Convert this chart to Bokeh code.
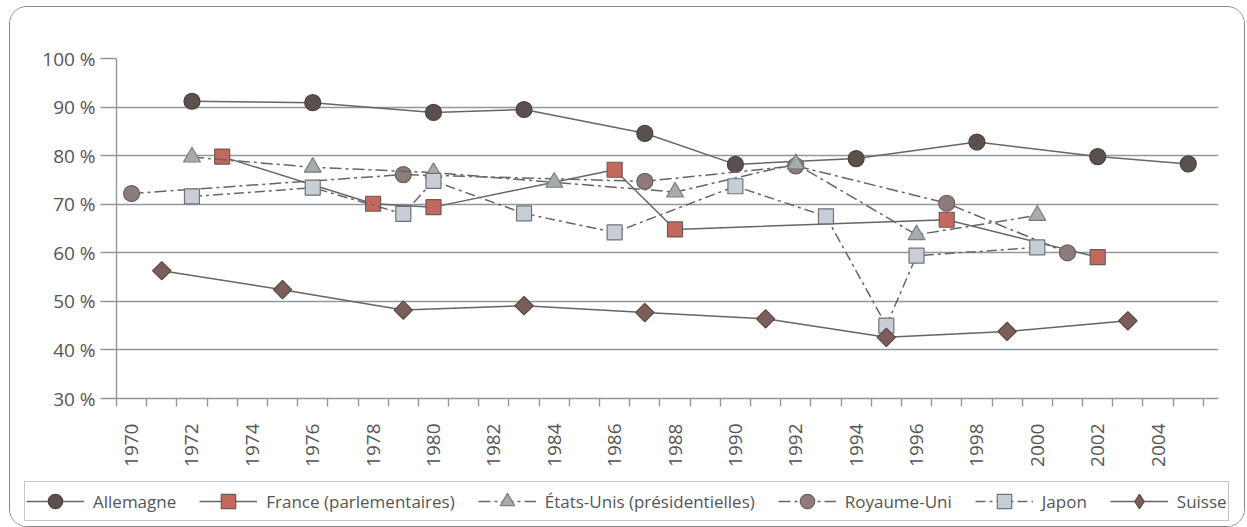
import numpy as np
from bokeh.plotting import figure
from bokeh.layouts import column
from bokeh.models import Range1d, FixedTicker, Legend, LegendItem, CustomJSTickFormatter
from bokeh.embed import file_html
from bokeh.resources import INLINE

# ---- data (turnout, %) ----
allemagne_years = [1972, 1976, 1980, 1983, 1987, 1990, 1994, 1998, 2002, 2005]
allemagne_vals = [91.2, 90.9, 88.9, 89.5, 84.6, 78.2, 79.4, 82.8, 79.8, 78.3]

france_years = [1973, 1978, 1980, 1986, 1988, 1997, 2002]
france_vals = [79.8, 70.1, 69.4, 77.1, 64.8, 66.8, 59.1]

usa_years = [1972, 1976, 1980, 1984, 1988, 1992, 1996, 2000]
usa_vals = [79.7, 77.6, 76.5, 74.5, 72.5, 78.3, 63.7, 67.7]

uk_years = [1970, 1979, 1987, 1992, 1997, 2001]
uk_vals = [72.2, 76.1, 74.7, 77.9, 70.2, 60.0]

japon_years = [1972, 1976, 1979, 1980, 1983, 1986, 1990, 1993, 1995, 1996, 2000]
japon_vals = [71.6, 73.4, 68.0, 74.8, 68.1, 64.2, 73.7, 67.5, 45.0, 59.4, 61.1]

suisse_years = [1971, 1975, 1979, 1983, 1987, 1991, 1995, 1999, 2003]
suisse_vals = [56.3, 52.4, 48.2, 49.1, 47.7, 46.4, 42.6, 43.8, 46.0]

x_label_years = list(range(1970, 2005, 2))
y_ticks = list(range(30, 101, 10))

FONT = "Open Sans"
TXT = "#555555"
GRID = "#8f979f"
LINE = "#666666"
W = 1234
ML, MR = 106, 26

p = figure(width=W, height=470,
           x_range=Range1d(1969.5, 1969.5 + 1102 / 30.19), y_range=Range1d(30, 100),
           output_backend="svg", toolbar_location=None,
           min_border_left=ML, min_border_right=MR,
           min_border_top=51, min_border_bottom=79)
p.frame_align = False
p.outline_line_color = None
p.background_fill_color = "white"
p.border_fill_color = "white"

p.xgrid.visible = False
p.ygrid.ticker = FixedTicker(ticks=y_ticks)
p.ygrid.grid_line_color = GRID
p.ygrid.grid_line_width = 1.4

# y axis
p.yaxis.ticker = FixedTicker(ticks=y_ticks)
p.yaxis.formatter = CustomJSTickFormatter(code="return tick + ' %';")
p.yaxis.major_tick_out = 16
p.yaxis.major_tick_in = 0
p.yaxis.minor_tick_out = 0
p.yaxis.minor_tick_in = 0
p.yaxis.major_label_standoff = 5
p.yaxis.axis_line_color = GRID
p.yaxis.axis_line_width = 1.4
p.yaxis.major_tick_line_color = GRID
p.yaxis.major_tick_line_width = 1.4
p.yaxis.major_label_text_font = FONT
p.yaxis.major_label_text_font_size = "19px"
p.yaxis.major_label_text_color = TXT

# x axis
minor = [1969.5 + i for i in range(37)]
p.xaxis.ticker = FixedTicker(ticks=x_label_years, minor_ticks=minor)
p.xaxis.major_label_orientation = np.pi / 2
p.xaxis.major_tick_out = 0
p.xaxis.major_tick_in = 0
p.xaxis.minor_tick_out = 8
p.xaxis.minor_tick_in = 0
p.xaxis.major_label_standoff = 17
p.xaxis.axis_line_color = GRID
p.xaxis.axis_line_width = 1.4
p.xaxis.minor_tick_line_color = GRID
p.xaxis.minor_tick_line_width = 1.4
p.xaxis.major_label_text_font = FONT
p.xaxis.major_label_text_font_size = "19px"
p.xaxis.major_label_text_color = TXT

# name, years, values, marker, size, angle, fill, edge, dash, legend marker
series = [
    ("Allemagne", allemagne_years, allemagne_vals, "circle", 16, 0, "#5a504e", "#4a4240", "solid", "circle"),
    ("France (parlementaires)", france_years, france_vals, "square", 15, 0, "#c4685e", "#6a5a58", "solid", "square"),
    ("Royaume-Uni", uk_years, uk_vals, "circle", 16, 0, "#8d7c7b", "#6b5e5d", "12 4 3 4", "circle"),
    ("États-Unis (présidentielles)", usa_years, usa_vals, "triangle", 17, 0, "#a7abae", "#7a7e80", "12 4 3 4", "triangle"),
    ("Japon", japon_years, japon_vals, "square", 15, 0, "#c9cdd6", "#6f7378", "10 4 3 4", "square"),
    ("Suisse", suisse_years, suisse_vals, "square", 13, np.pi / 4, "#7b5e59", "#5e4844", "solid", "diamond"),
]

# legend strip: separate figure below the chart (series drawn off-range, only legend shows)
pl = figure(width=W, height=49, x_range=Range1d(0, 1), y_range=Range1d(0, 1),
            output_backend="svg", toolbar_location=None,
            x_axis_location=None, y_axis_location=None,
            min_border_left=0, min_border_right=0, min_border_top=0, min_border_bottom=0)
pl.frame_align = False
pl.outline_line_color = None
pl.grid.visible = False
pl.background_fill_color = "white"
pl.border_fill_color = "white"

rend = {}
for name, xs, ys, marker, size, ang, fill, edge, dash, lmarker in series:
    p.line(xs, ys, line_color=LINE, line_width=1.5, line_dash=dash)
    p.scatter(xs, ys, marker=marker, size=size, angle=ang,
              fill_color=fill, line_color=edge, line_width=1.2)
    lr = pl.line(xs, ys, line_color=LINE, line_width=1.5, line_dash=dash)
    sr = pl.scatter(xs, ys, marker=lmarker, size=size,
                    fill_color=fill, line_color=edge, line_width=1.2)
    rend[name] = [lr, sr]

order = ["Allemagne", "France (parlementaires)", "États-Unis (présidentielles)",
         "Royaume-Uni", "Japon", "Suisse"]
items = [LegendItem(label=n, renderers=rend[n]) for n in order]
legend = Legend(items=items, orientation="horizontal", location=(14, 5),
                glyph_width=58, glyph_height=36, label_standoff=9, spacing=23,
                padding=1, margin=0,
                border_line_color="#8e8e8e", border_line_width=1.5,
                background_fill_color="white", background_fill_alpha=1,
                label_text_font=FONT, label_text_font_size="17px",
                label_text_color=TXT)
pl.add_layout(legend, "center")

layout = column(p, pl, spacing=0,
                styles={"border": "1.5px solid #8a8a8a", "border-radius": "18px",
                        "overflow": "hidden", "margin-left": "9px", "margin-top": "6px"})

open("out.html", "w").write(file_html(layout, INLINE))
